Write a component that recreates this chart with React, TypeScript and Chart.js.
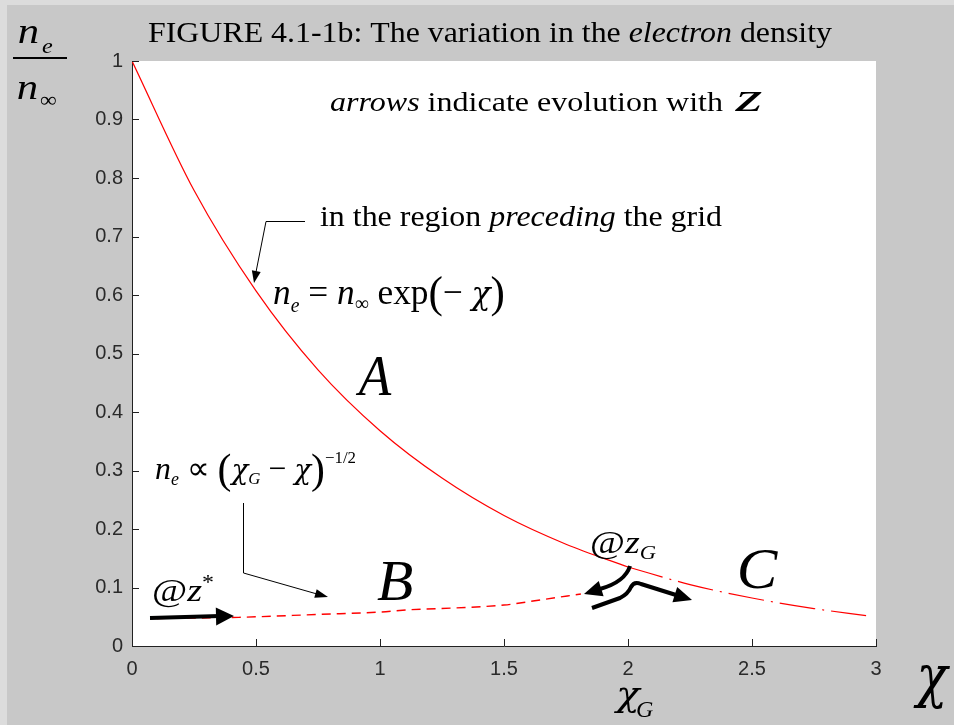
import React, { useEffect, useRef } from "react";
import { Chart, registerables } from "chart.js";
Chart.register(...registerables);

// ---- data ----
const xTickValues = [0, 0.5, 1, 1.5, 2, 2.5, 3];
const yTickValues = [0, 0.1, 0.2, 0.3, 0.4, 0.5, 0.6, 0.7, 0.8, 0.9, 1];

// region A (solid): n_e = n_inf exp(-chi)
const chiA = [0, 0.25, 0.5, 0.75, 1.0, 1.25, 1.5, 1.75, 2.0];
const neA = [1.0, 0.779, 0.607, 0.472, 0.368, 0.287, 0.223, 0.174, 0.135];
// region C (dash-dot) continuation beyond chi_G
const chiC = [2.0, 2.25, 2.5, 2.75, 2.96];
const neC = [0.135, 0.105, 0.082, 0.064, 0.052];
// region B (dashed)
const chiB = [0.1, 0.43, 0.75, 1.0, 1.12, 1.3, 1.5, 1.65, 1.81];
const neB = [0.047, 0.049, 0.054, 0.058, 0.062, 0.065, 0.07, 0.079, 0.089];

const SERIF = '"Liberation Serif","Times New Roman",serif';
const GREEK = '"DejaVu Serif","Liberation Serif",serif';

type Seg = { t: string; s: number; it?: boolean; dy?: number; f?: string };

function fnt(size: number, italic?: boolean, fam?: string) {
  return `${italic ? "italic " : ""}${size}px ${fam || SERIF}`;
}

// draw one string with its ink-left at x, optionally stretched to ink width w
function put(ctx: CanvasRenderingContext2D, text: string, x: number, y: number, size: number, italic = false, w?: number, fam?: string) {
  ctx.font = fnt(size, italic, fam);
  const m = ctx.measureText(text);
  const inkW = m.actualBoundingBoxLeft + m.actualBoundingBoxRight;
  const sx = w ? w / inkW : 1;
  ctx.save();
  ctx.translate(x, y);
  ctx.scale(sx, 1);
  ctx.fillText(text, m.actualBoundingBoxLeft, 0);
  ctx.restore();
}

// rich text run fitted between x0 and x1
function rich(ctx: CanvasRenderingContext2D, segs: Seg[], x0: number, x1: number, y: number) {
  let W = 0;
  const ws: number[] = [];
  segs.forEach((g) => {
    ctx.font = fnt(g.s, g.it, g.f);
    const w = ctx.measureText(g.t).width;
    ws.push(w);
    W += w;
  });
  const sx = (x1 - x0) / W;
  ctx.save();
  ctx.translate(x0, y);
  ctx.scale(sx, 1);
  let cx = 0;
  segs.forEach((g, i) => {
    ctx.font = fnt(g.s, g.it, g.f);
    ctx.fillText(g.t, cx, g.dy || 0);
    cx += ws[i];
  });
  ctx.restore();
}

function head(ctx: CanvasRenderingContext2D, tx: number, ty: number, fx: number, fy: number, len: number, hw: number) {
  const a = Math.atan2(ty - fy, tx - fx);
  const bx = tx - len * Math.cos(a);
  const by = ty - len * Math.sin(a);
  ctx.beginPath();
  ctx.moveTo(tx, ty);
  ctx.lineTo(bx + hw * Math.sin(a), by - hw * Math.cos(a));
  ctx.lineTo(bx - hw * Math.sin(a), by + hw * Math.cos(a));
  ctx.closePath();
  ctx.fill();
}

const bgPlugin = {
  id: "bg",
  beforeDraw(chart: any) {
    const { ctx, chartArea: a, width, height } = chart;
    ctx.save();
    ctx.fillStyle = "#dcdcdc";
    ctx.fillRect(0, 0, width, height);
    ctx.fillStyle = "#c8c8c8";
    ctx.fillRect(7, 5, width - 7, height - 5);
    ctx.fillStyle = "#ffffff";
    ctx.fillRect(a.left, a.top, a.right - a.left, a.bottom - a.top);
    ctx.restore();
  },
};

const annoPlugin = {
  id: "anno",
  afterDraw(chart: any) {
    const { ctx, chartArea: a, scales } = chart;
    const xs = scales.x;
    const ys = scales.y;
    ctx.save();
    // inward tick marks
    ctx.strokeStyle = "#222";
    ctx.lineWidth = 1;
    ctx.beginPath();
    xTickValues.forEach((v) => {
      const px = Math.round(xs.getPixelForValue(v)) + 0.5;
      ctx.moveTo(px, a.bottom);
      ctx.lineTo(px, a.bottom - 7);
    });
    yTickValues.forEach((v) => {
      const py = Math.round(ys.getPixelForValue(v)) + 0.5;
      ctx.moveTo(a.left, py);
      ctx.lineTo(a.left + 7, py);
    });
    ctx.stroke();

    ctx.fillStyle = "#000";
    ctx.strokeStyle = "#000";
    ctx.textBaseline = "alphabetic";
    ctx.textAlign = "left";

    // title
    rich(ctx, [
      { t: "FIGURE 4.1-1b: The variation in the ", s: 30 },
      { t: "electron", s: 30, it: true },
      { t: " density", s: 30 },
    ], 148, 832, 42);

    // y-axis label fraction n_e / n_inf
    put(ctx, "n", 19, 43, 36, true, 19);
    put(ctx, "e", 42, 53, 22, true, 11);
    ctx.fillRect(13, 57, 54, 2);
    put(ctx, "n", 18, 99, 36, true, 19);
    put(ctx, "\u221e", 40, 107, 22, false, 16);

    // arrows indicate evolution with z
    rich(ctx, [
      { t: "arrows", s: 28, it: true },
      { t: " indicate evolution with", s: 28 },
    ], 330, 723, 111);
    put(ctx, "z", 734, 111, 40, true, 29);

    // in the region preceding the grid
    rich(ctx, [
      { t: "in the region ", s: 30 },
      { t: "preceding", s: 30, it: true },
      { t: " the grid", s: 30 },
    ], 320, 722, 226);
    ctx.lineWidth = 1;
    ctx.beginPath();
    ctx.moveTo(305, 221.5);
    ctx.lineTo(266, 221.5);
    ctx.lineTo(256, 272);
    ctx.stroke();
    head(ctx, 254, 283, 266, 221, 12, 4.5);

    // n_e = n_inf exp(- chi)
    rich(ctx, [
      { t: "n", s: 36, it: true },
      { t: "e", s: 20, it: true, dy: 8 },
      { t: " = ", s: 36 },
      { t: "n", s: 36, it: true },
      { t: "\u221e", s: 20, dy: 6 },
      { t: " exp", s: 36 },
      { t: "(", s: 44, dy: 3 },
      { t: "\u2212 ", s: 36 },
      { t: "\u03c7", s: 32, it: true, f: GREEK },
      { t: ")", s: 44, dy: 3 },
    ], 273, 505, 304);

    // region letters
    put(ctx, "A", 355, 395, 56, true, 37);
    put(ctx, "B", 377, 600, 56, true, 35);
    put(ctx, "C", 740, 588, 56, true, 38);

    // n_e ∝ (chi_G - chi)^-1/2
    rich(ctx, [
      { t: "n", s: 32, it: true },
      { t: "e", s: 18, it: true, dy: 6 },
      { t: " \u221d ", s: 32 },
      { t: "(", s: 42, dy: 4 },
      { t: "\u03c7", s: 28, it: true, f: GREEK },
      { t: "G", s: 17, it: true, dy: 5 },
      { t: " \u2212 ", s: 32 },
      { t: "\u03c7", s: 28, it: true, f: GREEK },
      { t: ")", s: 42, dy: 4 },
      { t: "\u22121/2", s: 17, dy: -16 },
    ], 155, 356, 479);
    ctx.lineWidth = 1;
    ctx.beginPath();
    ctx.moveTo(243.5, 503);
    ctx.lineTo(243.5, 573);
    ctx.lineTo(317, 594);
    ctx.stroke();
    head(ctx, 328, 597, 243, 573, 13, 4.5);

    // @ z*
    rich(ctx, [
      { t: "@", s: 32 },
      { t: "z", s: 32, it: true },
      { t: "*", s: 20, dy: -12 },
    ], 152, 214, 601);
    ctx.lineWidth = 4;
    ctx.beginPath();
    ctx.moveTo(150, 618);
    ctx.lineTo(220, 616);
    ctx.stroke();
    head(ctx, 234, 616, 150, 618, 18, 9);

    // @ z_G
    rich(ctx, [
      { t: "@", s: 32 },
      { t: "z", s: 32, it: true },
      { t: "G", s: 19, it: true, dy: 6 },
    ], 590, 656, 553);

    // curved arrow down-left
    ctx.lineWidth = 4;
    ctx.lineCap = "butt";
    ctx.lineJoin = "round";
    ctx.beginPath();
    ctx.moveTo(630, 566);
    ctx.quadraticCurveTo(625, 582, 600, 589);
    ctx.stroke();
    head(ctx, 584, 594, 603, 588, 18, 8);

    // squiggle arrow to the right
    ctx.beginPath();
    ctx.moveTo(592, 608);
    ctx.lineTo(620, 598);
    ctx.quadraticCurveTo(628, 594, 631, 587);
    ctx.quadraticCurveTo(634, 581, 641, 584);
    ctx.lineTo(676, 595);
    ctx.stroke();
    head(ctx, 692, 600, 676, 595, 18, 8);

    // chi_G under the axis
    put(ctx, "\u03c7", 613, 706, 36, true, 29, GREEK);
    put(ctx, "G", 637, 717, 24, true, 16);

    // big chi
    put(ctx, "\u03c7", 913, 696, 58, true, 37, GREEK);

    ctx.restore();
  },
};

export default function App() {
  const ref = useRef<HTMLCanvasElement>(null);
  useEffect(() => {
    const canvas = ref.current!;
    const tickFont = { family: '"Liberation Sans", Arial, sans-serif', size: 20 };
    const chart = new Chart(canvas, {
      type: "line",
      data: {
        datasets: [
          {
            data: chiA.map((x, i) => ({ x, y: neA[i] })),
            borderColor: "#ff0000",
            borderWidth: 1.2,
            pointRadius: 0,
            cubicInterpolationMode: "monotone",
          },
          {
            data: chiC.map((x, i) => ({ x, y: neC[i] })),
            borderColor: "#ff0000",
            borderWidth: 1.2,
            pointRadius: 0,
            borderDash: [36, 7, 2, 7],
            cubicInterpolationMode: "monotone",
          },
          {
            data: chiB.map((x, i) => ({ x, y: neB[i] })),
            borderColor: "#ff0000",
            borderWidth: 1.4,
            pointRadius: 0,
            borderDash: [9, 6],
            cubicInterpolationMode: "monotone",
          },
        ],
      } as any,
      options: {
        responsive: false,
        animation: false,
        devicePixelRatio: 1,
        layout: { padding: { top: 61, right: 78, left: 0, bottom: 0 } },
        plugins: { legend: { display: false }, tooltip: { enabled: false } },
        scales: {
          x: {
            type: "linear",
            min: 0,
            max: 3,
            afterFit: (s: any) => { s.height = 79; },
            afterBuildTicks: (s: any) => { s.ticks = xTickValues.map((v) => ({ value: v })); },
            ticks: { padding: 11, font: tickFont, color: "#2a2a2a", callback: (v: any) => String(v), maxRotation: 0, autoSkip: false },
            grid: { display: false, drawTicks: false },
            border: { display: true, color: "#222", width: 1 },
          },
          y: {
            type: "linear",
            min: 0,
            max: 1,
            afterFit: (s: any) => { s.width = 132; },
            afterBuildTicks: (s: any) => { s.ticks = yTickValues.map((v) => ({ value: v })); },
            ticks: { padding: 9, font: tickFont, color: "#2a2a2a", callback: (v: any) => String(v), autoSkip: false },
            grid: { display: false, drawTicks: false },
            border: { display: true, color: "#222", width: 1 },
          },
        },
      } as any,
      plugins: [bgPlugin, annoPlugin],
    });
    return () => chart.destroy();
  }, []);
  return (
    <div style={{ position: "absolute", left: 0, top: 0, width: 954, height: 725 }}>
      <canvas ref={ref} width={954} height={725} style={{ display: "block" }} />
    </div>
  );
}
